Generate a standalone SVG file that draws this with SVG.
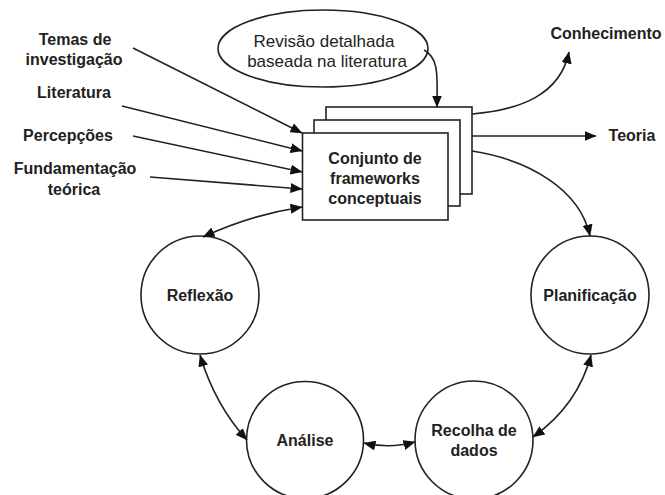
<svg xmlns="http://www.w3.org/2000/svg" width="665" height="495" viewBox="0 0 665 495">
<style>
.bg{fill:#fff}
.shape{fill:#fff;stroke:#222;stroke-width:1.6}
.c{fill:none;stroke:#222;stroke-width:1.6}
.b{font-family:"Liberation Sans",Arial,sans-serif;font-weight:bold;font-size:16px;fill:#222;text-anchor:middle}
.r{font-family:"Liberation Sans",Arial,sans-serif;font-size:17px;fill:#222;text-anchor:middle}
</style>
<defs>
<marker id="ah" viewBox="0 0 12 10" refX="11.5" refY="5" markerWidth="12" markerHeight="10" markerUnits="userSpaceOnUse" orient="auto-start-reverse">
<path d="M0,0 L12,5 L0,10 Z" fill="#111"/>
</marker>
</defs>
<rect class="bg" width="665" height="495"/>

<g id="labels-left">
<text class="b" x="75" y="45">Temas de</text>
<text class="b" x="74" y="65">investigação</text>
<text class="b" x="74" y="98">Literatura</text>
<text class="b" x="68" y="141">Percepções</text>
<text class="b" x="75" y="174">Fundamentação</text>
<text class="b" x="74" y="195">teórica</text>
</g>

<g id="ellipse-revisao">
<ellipse class="shape" cx="323" cy="48.5" rx="105" ry="38.5"/>
<text class="r" x="324" y="47">Revisão detalhada</text>
<text class="r" x="327" y="67">baseada na literatura</text>
</g>

<g id="frameworks">
<rect class="shape" x="326" y="107" width="146" height="87"/>
<rect class="shape" x="314" y="120" width="146" height="86"/>
<rect class="shape" x="302.5" y="133" width="145.5" height="87"/>
<text class="b" x="375" y="164">Conjunto de</text>
<text class="b" x="375" y="184">frameworks</text>
<text class="b" x="375" y="204">conceptuais</text>
</g>

<g id="labels-right">
<text class="b" x="606" y="39">Conhecimento</text>
<text class="b" x="632" y="141">Teoria</text>
</g>

<g id="reflexao">
<circle class="shape" cx="200" cy="295" r="59"/>
<text class="b" x="200" y="301">Reflexão</text>
</g>
<g id="planificacao">
<circle class="shape" cx="590" cy="295" r="59"/>
<text class="b" x="590" y="301">Planificação</text>
</g>
<g id="analise">
<circle class="shape" cx="305" cy="440" r="58.5"/>
<text class="b" x="305" y="446">Análise</text>
</g>
<g id="recolha">
<circle class="shape" cx="474" cy="440" r="59"/>
<text class="b" x="474" y="436">Recolha de</text>
<text class="b" x="474" y="456">dados</text>
</g>

<g id="connectors">
<line class="c" x1="133" y1="48" x2="302" y2="133" marker-end="url(#ah)"/>
<line class="c" x1="122" y1="106" x2="302" y2="151" marker-end="url(#ah)"/>
<line class="c" x1="133" y1="136" x2="302" y2="172" marker-end="url(#ah)"/>
<line class="c" x1="150" y1="177" x2="302" y2="189" marker-end="url(#ah)"/>
<path class="c" d="M424,50 C440,58 437,80 437,107" marker-end="url(#ah)"/>
<path class="c" d="M472,114 C520,110 560,95 569,52" marker-end="url(#ah)"/>
<line class="c" x1="472" y1="136" x2="596" y2="136" marker-end="url(#ah)"/>
<path class="c" d="M472,151 C530,160 580,190 590,236" marker-end="url(#ah)"/>
<path class="c" d="M302,207 Q250,215 203,237" marker-start="url(#ah)" marker-end="url(#ah)"/>
<path class="c" d="M200,355 Q215,405 247,440" marker-start="url(#ah)" marker-end="url(#ah)"/>
<path class="c" d="M364,443 Q390,449 415,442" marker-start="url(#ah)" marker-end="url(#ah)"/>
<path class="c" d="M533,437 Q578,405 591,355" marker-start="url(#ah)" marker-end="url(#ah)"/>
</g>
</svg>
